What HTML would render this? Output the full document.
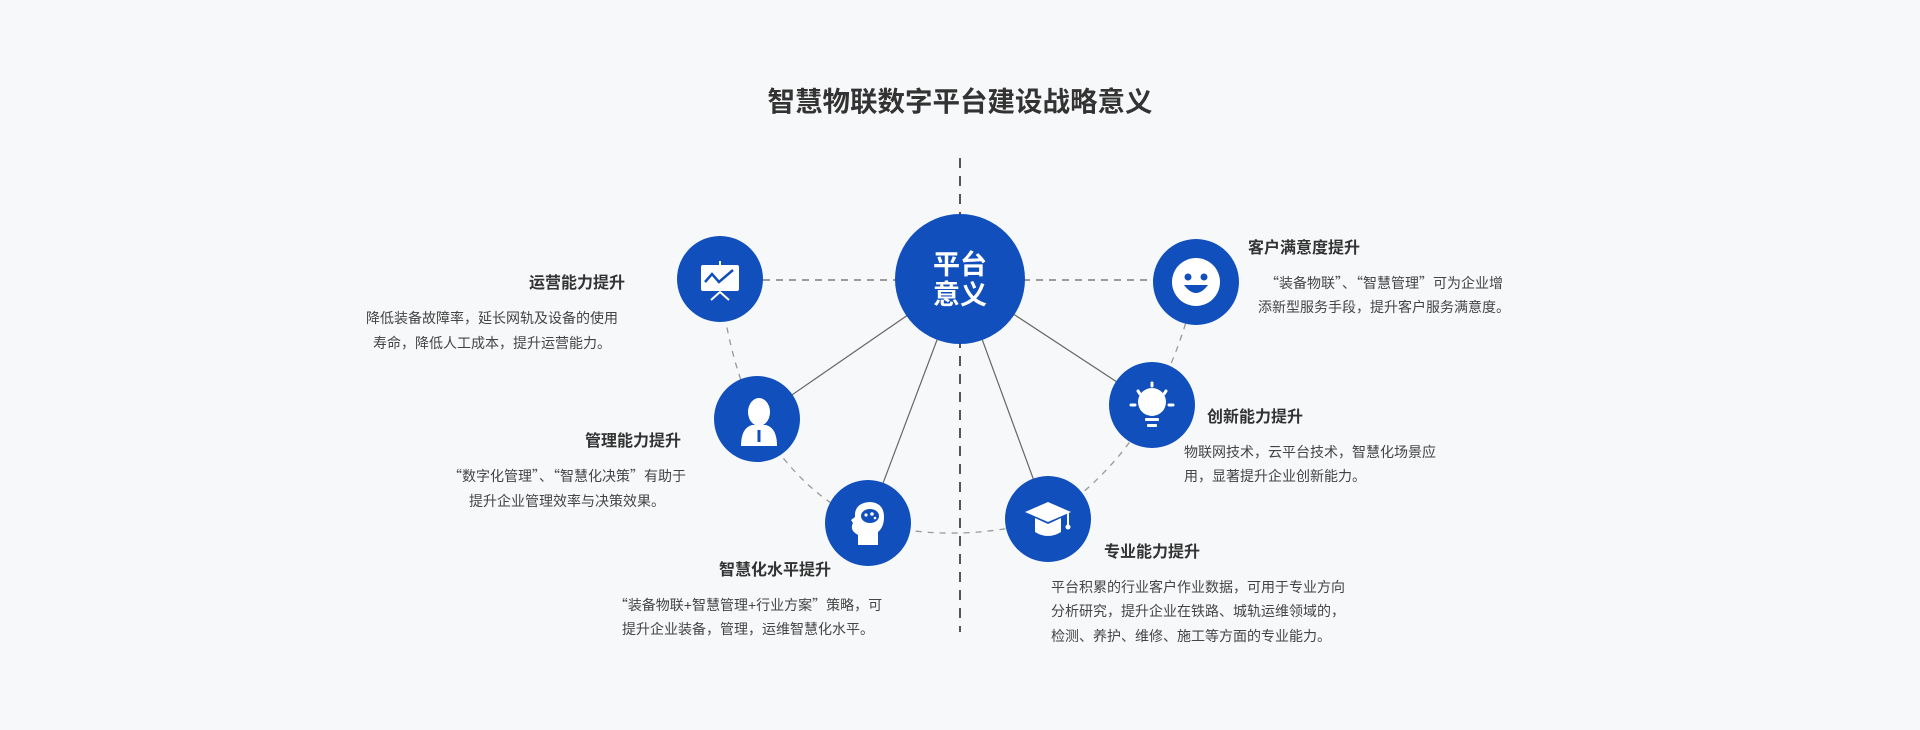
<!DOCTYPE html>
<html><head><meta charset="utf-8">
<style>
html,body{margin:0;padding:0;background:#f7f8fa;}
svg{display:block;}
text{font-family:"Liberation Sans","Noto Sans CJK SC",sans-serif;}
.t{font-size:16px;font-weight:bold;fill:#333;}
.d{font-size:14px;fill:#444;}
.q{font-family:"Noto Sans CJK SC",sans-serif;}
</style></head><body>
<svg width="1920" height="730" viewBox="0 0 1920 730" xmlns="http://www.w3.org/2000/svg">
<rect width="1920" height="730" fill="#f7f8fa"/>
<text x="960" y="111" text-anchor="middle" style="font-size:27.5px;font-weight:bold;fill:#333">智慧物联数字平台建设战略意义</text>
<line x1="960" y1="158" x2="960" y2="632" stroke="#555" stroke-width="2" stroke-dasharray="10,8"/>
<line x1="763" y1="280" x2="1157" y2="280" stroke="#666" stroke-width="1.3" stroke-dasharray="7,6"/>
<path d="M720,280 Q728,360 757,419 Q800,495 868,523 Q960,545 1048,519 Q1120,470 1152,405 Q1185,340 1196,282" fill="none" stroke="#999" stroke-width="1.3" stroke-dasharray="6,6"/>
<g stroke="#666" stroke-width="1.2">
<line x1="960" y1="279" x2="757" y2="419"/>
<line x1="960" y1="279" x2="868" y2="523"/>
<line x1="960" y1="279" x2="1048" y2="519"/>
<line x1="960" y1="279" x2="1152" y2="405"/>
</g>
<g fill="#104fbc">
<circle cx="960" cy="279" r="65"/>
<circle cx="720" cy="279" r="43"/>
<circle cx="1196" cy="282" r="43"/>
<circle cx="757" cy="419" r="43"/>
<circle cx="1152" cy="405" r="43"/>
<circle cx="868" cy="523" r="43"/>
<circle cx="1048" cy="519" r="43"/>
</g>
<text x="960" y="274" text-anchor="middle" style="font-size:27px;font-weight:bold;fill:#fff">平台</text>
<text x="960" y="304" text-anchor="middle" style="font-size:27px;font-weight:bold;fill:#fff">意义</text>
<g fill="#fff">
<rect x="701" y="265" width="38" height="26" rx="2"/>
<rect x="719" y="261" width="2" height="5"/>
</g>
<polyline points="705,282 712,274 719,282 733,270" fill="none" stroke="#104fbc" stroke-width="2.5"/>
<path d="M711,300 L720,292 L729,300" fill="none" stroke="#fff" stroke-width="2"/>
<circle cx="1196" cy="282" r="24" fill="#fff"/>
<circle cx="1188" cy="277" r="3.5" fill="#104fbc"/>
<circle cx="1204" cy="277" r="3.5" fill="#104fbc"/>
<path d="M1184,285 Q1196,301 1208,285 Z" fill="#104fbc"/>
<g fill="#fff">
<ellipse cx="759" cy="412" rx="11" ry="14"/>
<path d="M741,446 Q741,428 752,425 L766,425 Q777,428 777,446 Z"/>
</g>
<path d="M759,430 L759,442" stroke="#104fbc" stroke-width="3"/>
<g fill="#fff">
<circle cx="1152" cy="402" r="14"/>
<rect x="1145" y="418" width="14" height="3" rx="1"/>
<rect x="1147" y="424" width="10" height="3" rx="1"/>
</g>
<g stroke="#fff" stroke-width="3" stroke-linecap="round">
<line x1="1152" y1="383" x2="1152" y2="386"/>
<line x1="1138" y1="391" x2="1140" y2="394"/>
<line x1="1166" y1="391" x2="1164" y2="394"/>
<line x1="1131" y1="405" x2="1135" y2="405"/>
<line x1="1169" y1="405" x2="1173" y2="405"/>
</g>
<path d="M858,545 L858,535 Q849,530 853,523 L851,520 L855,517 Q854,503 870,502 Q884,503 884,517 Q884,527 878,532 L878,545 Z" fill="#fff"/>
<ellipse cx="870" cy="516" rx="9" ry="7" fill="#104fbc"/>
<g fill="#fff"><circle cx="866" cy="515" r="1.6"/><circle cx="872" cy="514" r="1.8"/><circle cx="875" cy="518" r="1.3"/></g>
<path d="M1025,512 L1048,502 L1071,512 L1048,522 Z" fill="#fff"/>
<path d="M1035,518 L1035,532 Q1048,540 1061,532 L1061,518 L1048,524 Z" fill="#fff"/>
<line x1="1068" y1="513" x2="1068" y2="525" stroke="#fff" stroke-width="2"/>
<circle cx="1068" cy="527" r="2.5" fill="#fff"/>
<text class="t" x="625" y="288" text-anchor="end">运营能力提升</text>
<text class="d" x="492" y="323" text-anchor="middle">降低装备故障率，延长网轨及设备的使用</text>
<text class="d" x="492" y="348" text-anchor="middle">寿命，降低人工成本，提升运营能力。</text>
<text class="t" x="681" y="446" text-anchor="end">管理能力提升</text>
<text class="d" x="567" y="481" text-anchor="middle"><tspan class="q">“</tspan>数字化管理<tspan class="q">”、“</tspan>智慧化决策<tspan class="q">”</tspan>有助于</text>
<text class="d" x="567" y="506" text-anchor="middle">提升企业管理效率与决策效果。</text>
<text class="t" x="775" y="575" text-anchor="middle">智慧化水平提升</text>
<text class="d" x="748" y="610" text-anchor="middle"><tspan class="q">“</tspan>装备物联+智慧管理+行业方案<tspan class="q">”</tspan>策略，可</text>
<text class="d" x="748" y="634" text-anchor="middle">提升企业装备，管理，运维智慧化水平。</text>
<text class="t" x="1248" y="253">客户满意度提升</text>
<text class="d" x="1384" y="288" text-anchor="middle"><tspan class="q">“</tspan>装备物联<tspan class="q">”、“</tspan>智慧管理<tspan class="q">”</tspan>可为企业增</text>
<text class="d" x="1384" y="312" text-anchor="middle">添新型服务手段，提升客户服务满意度。</text>
<text class="t" x="1207" y="422">创新能力提升</text>
<text class="d" x="1184" y="457">物联网技术，云平台技术，智慧化场景应</text>
<text class="d" x="1184" y="481">用，显著提升企业创新能力。</text>
<text class="t" x="1104" y="557">专业能力提升</text>
<text class="d" x="1051" y="592">平台积累的行业客户作业数据，可用于专业方向</text>
<text class="d" x="1051" y="616">分析研究，提升企业在铁路、城轨运维领域的，</text>
<text class="d" x="1051" y="641">检测、养护、维修、施工等方面的专业能力。</text>
</svg>
</body></html>
